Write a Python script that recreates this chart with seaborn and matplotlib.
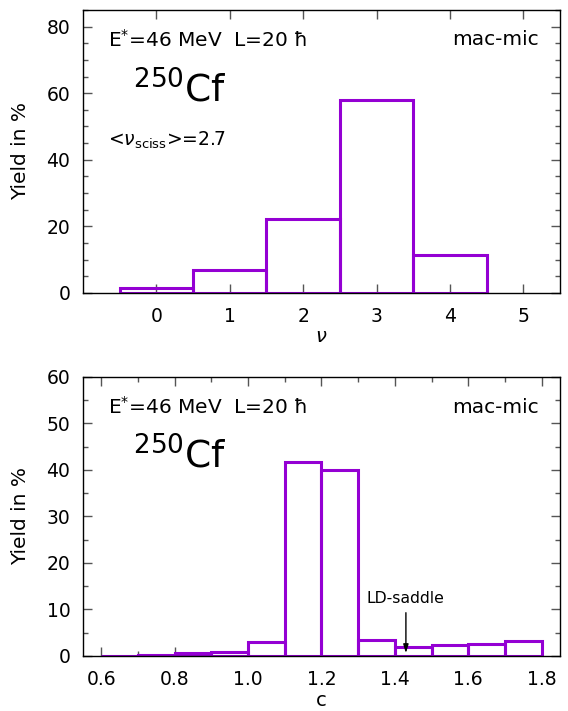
import matplotlib
matplotlib.use("Agg")
import matplotlib.pyplot as plt
import seaborn as sns
import pandas as pd
from matplotlib.ticker import MultipleLocator, FormatStrFormatter

# neutron multiplicity at scission
nu_values = [0, 1, 2, 3, 4]
nu_yield = [1.5, 6.9, 22.2, 58.0, 11.5]
nu_ticks = [0, 1, 2, 3, 4, 5]

# elongation c
c_edges = [0.6, 0.7, 0.8, 0.9, 1.0, 1.1, 1.2, 1.3, 1.4, 1.5, 1.6, 1.7, 1.8]
c_yield = [0.1, 0.2, 0.6, 0.9, 2.9, 41.7, 40.0, 3.5, 1.9, 2.3, 2.5, 3.2]

ld_saddle_c = 1.43

sns.set_style("ticks")
plt.rcParams["font.family"] = ["DejaVu Sans"]
plt.rcParams["mathtext.fontset"] = "dejavusans"
plt.rcParams["text.color"] = "black"
plt.rcParams["axes.labelcolor"] = "black"
plt.rcParams["xtick.labelcolor"] = "black"
plt.rcParams["ytick.labelcolor"] = "black"

purple = "#9400d3"

fig = plt.figure(figsize=(5.68, 7.11), dpi=100)
ax1 = fig.add_axes([0.146, 0.588, 0.840, 0.398])
ax2 = fig.add_axes([0.146, 0.0774, 0.840, 0.3924])

# top panel: nu distribution
nu_df = pd.DataFrame({"nu": nu_values, "y": nu_yield})
nu_edges = [v - 0.5 for v in nu_values] + [nu_values[-1] + 0.5]
sns.histplot(data=nu_df, x="nu", weights="y", bins=nu_edges, fill=False,
             element="bars", color=purple, linewidth=2.2, ax=ax1)
ax1.set_xlim(-1.0, 5.5)
ax1.set_ylim(0, 85)
ax1.set_xticks(nu_ticks)
ax1.yaxis.set_major_locator(MultipleLocator(20))
ax1.yaxis.set_minor_locator(MultipleLocator(5))
ax1.set_xlabel(r"$\nu$", fontsize=14)
ax1.xaxis.set_label_coords(0.5, -0.12)
ax1.text(0.052, 0.895, r"E$^{*}$=46 MeV  L=20 ħ", transform=ax1.transAxes,
         fontsize=14.5, va="center", ha="left")
ax1.text(0.955, 0.895, "mac-mic", transform=ax1.transAxes,
         fontsize=14.5, va="center", ha="right")
ax1.text(0.104, 0.675, r"$^{250}$Cf", transform=ax1.transAxes,
         fontsize=27, va="baseline", ha="left")
ax1.text(0.052, 0.521, r"<$\nu_{\rm sciss}$>=2.7", transform=ax1.transAxes,
         fontsize=13.5, va="baseline", ha="left")

# bottom panel: elongation distribution
c_centers = [(a + b) / 2 for a, b in zip(c_edges[:-1], c_edges[1:])]
c_df = pd.DataFrame({"c": c_centers, "y": c_yield})
sns.histplot(data=c_df, x="c", weights="y", bins=c_edges, fill=False,
             element="bars", color=purple, linewidth=2.2, ax=ax2)
ax2.set_xlim(0.55, 1.85)
ax2.set_ylim(0, 60)
ax2.xaxis.set_major_locator(MultipleLocator(0.2))
ax2.xaxis.set_minor_locator(MultipleLocator(0.1))
ax2.yaxis.set_major_locator(MultipleLocator(10))
ax2.yaxis.set_minor_locator(MultipleLocator(5))
ax2.xaxis.set_major_formatter(FormatStrFormatter("%.1f"))
ax2.set_xlabel("c", fontsize=14)
ax2.xaxis.set_label_coords(0.5, -0.125)
ax2.text(0.052, 0.892, r"E$^{*}$=46 MeV  L=20 ħ", transform=ax2.transAxes,
         fontsize=14.5, va="center", ha="left")
ax2.text(0.955, 0.892, "mac-mic", transform=ax2.transAxes,
         fontsize=14.5, va="center", ha="right")
ax2.text(0.104, 0.674, r"$^{250}$Cf", transform=ax2.transAxes,
         fontsize=27, va="baseline", ha="left")
ax2.annotate("", xy=(ld_saddle_c, 0), xytext=(ld_saddle_c, 9.9),
             arrowprops=dict(arrowstyle="-|>,head_length=0.5,head_width=0.15",
                             color="black", lw=1.0))
ax2.text(ld_saddle_c, 12.3, "LD-saddle", fontsize=11.3, ha="center", va="center")

for ax in (ax1, ax2):
    ax.set_ylabel("Yield in %", fontsize=14.5)
    ax.yaxis.set_label_coords(-0.11, 0.5)
    ax.tick_params(which="both", direction="in", top=True, right=True,
                   color="#555555", labelsize=13.5, labelcolor="black")
    ax.tick_params(axis="x", pad=10)
    ax.tick_params(axis="y", pad=9)
    ax.tick_params(which="major", length=6.5, width=1)
    ax.tick_params(which="minor", length=3.5, width=1)
    for s in ax.spines.values():
        s.set_linewidth(1.0)
        s.set_color("black")
    ax.grid(False)

fig.savefig("out.png", dpi=100)
